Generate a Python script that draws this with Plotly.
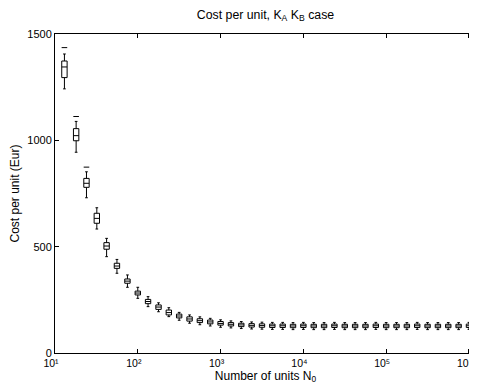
import math
import plotly.graph_objects as go

# Number of units N0 (8 per decade)
n_units = [13, 18, 24, 32, 42, 56, 75, 100, 133, 178, 237, 316, 422, 562, 750,
           1000, 1334, 1778, 2371, 3162, 4217, 5623, 7499, 10000, 13335, 17783,
           23714, 31623, 42170, 56234, 74989, 100000, 133352, 177828, 237137,
           316228, 421697, 562341, 749894, 1000000]

medians = [1345, 1022, 798, 633, 503, 409, 338, 282, 242, 216, 190, 174, 160,
           152, 146, 139, 135, 132, 130, 129, 128, 128, 127, 128, 127, 127, 128,
           127, 127, 127, 128, 127, 127, 127, 128, 127, 127, 127, 127, 128]
q1 = [1295, 998, 779, 610, 488, 398, 328, 273, 232, 205, 179, 165, 150,
      143, 137, 131, 127, 124, 122, 121, 120, 120, 119, 120, 119, 119, 120,
      119, 119, 119, 120, 119, 119, 119, 120, 119, 119, 119, 119, 120]
q3 = [1373, 1055, 821, 657, 519, 422, 348, 291, 252, 226, 202, 183, 170,
      161, 155, 148, 143, 140, 138, 137, 136, 136, 135, 136, 135, 135, 136,
      135, 135, 135, 136, 135, 135, 135, 136, 135, 135, 135, 135, 136]
lower = [1242, 944, 730, 583, 453, 375, 309, 257, 218, 194, 171, 154, 140,
         133, 127, 121, 118, 115, 113, 112, 111, 111, 110, 111, 110, 110, 111,
         110, 110, 110, 111, 110, 110, 110, 111, 110, 110, 110, 110, 111]
upper = [1406, 1089, 852, 683, 539, 440, 367, 309, 265, 236, 213, 191, 179,
         170, 163, 156, 151, 148, 146, 145, 144, 144, 143, 144, 143, 143, 144,
         143, 143, 143, 144, 143, 143, 143, 144, 143, 143, 143, 143, 144]

outlier_n = [13, 18, 24]
outlier_y = [1436, 1112, 874]

x_tick_exps = [1, 2, 3, 4, 5, 6]
x_tick_text = ["10¹", "10²", "10³", "10⁴", "10⁵", "10⁶"]
y_ticks = [0, 500, 1000, 1500]

pos = [math.log10(n) for n in n_units]
opos = [math.log10(n) for n in outlier_n]

fig = go.Figure()
fig.add_trace(go.Box(
    x=pos, q1=q1, median=medians, q3=q3, lowerfence=lower, upperfence=upper,
    width=0.065, whiskerwidth=0.5, fillcolor="white",
    line=dict(color="black", width=1), boxpoints=False, showlegend=False,
    hoverinfo="skip",
))
fig.add_trace(go.Scatter(
    x=opos, y=outlier_y, mode="markers", showlegend=False,
    marker=dict(symbol="line-ew", size=4, line=dict(color="black", width=1)),
))

# The page body has an 8px margin, so the figure is offset to fit the window.
font = "Liberation Sans, Arial, sans-serif"
fig.update_layout(
    width=477, height=377,
    margin=dict(l=47, r=9, t=26, b=32, pad=0, autoexpand=False),
    paper_bgcolor="white", plot_bgcolor="white",
    font=dict(family=font, size=11, color="black"),
    title=dict(text="Cost per unit, K<sub>A</sub> K<sub>B</sub> case",
               x=0.5, xref="paper", y=0.995, yanchor="top",
               font=dict(size=12.3)),
    xaxis=dict(
        range=[1, 6.085], tickvals=x_tick_exps, ticktext=x_tick_text,
        ticks="inside", ticklen=4, tickcolor="black",
        showline=True, linecolor="black", linewidth=1, mirror="ticks",
        showgrid=False, zeroline=False, automargin=False,
        ticklabeloverflow="allow", ticklabelshift=-4,
        tickfont=dict(size=10.5),
        title=dict(text="Number of units N<sub>0</sub>", standoff=0,
                   font=dict(size=12)),
    ),
    yaxis=dict(
        range=[0, 1500], tickvals=y_ticks,
        ticks="inside", ticklen=4, tickcolor="black",
        showline=True, linecolor="black", linewidth=1, mirror="ticks",
        showgrid=False, zeroline=False, automargin=False,
        title=dict(text="Cost per unit (Eur)", standoff=6,
                   font=dict(size=12)),
    ),
)

fig.write_html("out.html")
